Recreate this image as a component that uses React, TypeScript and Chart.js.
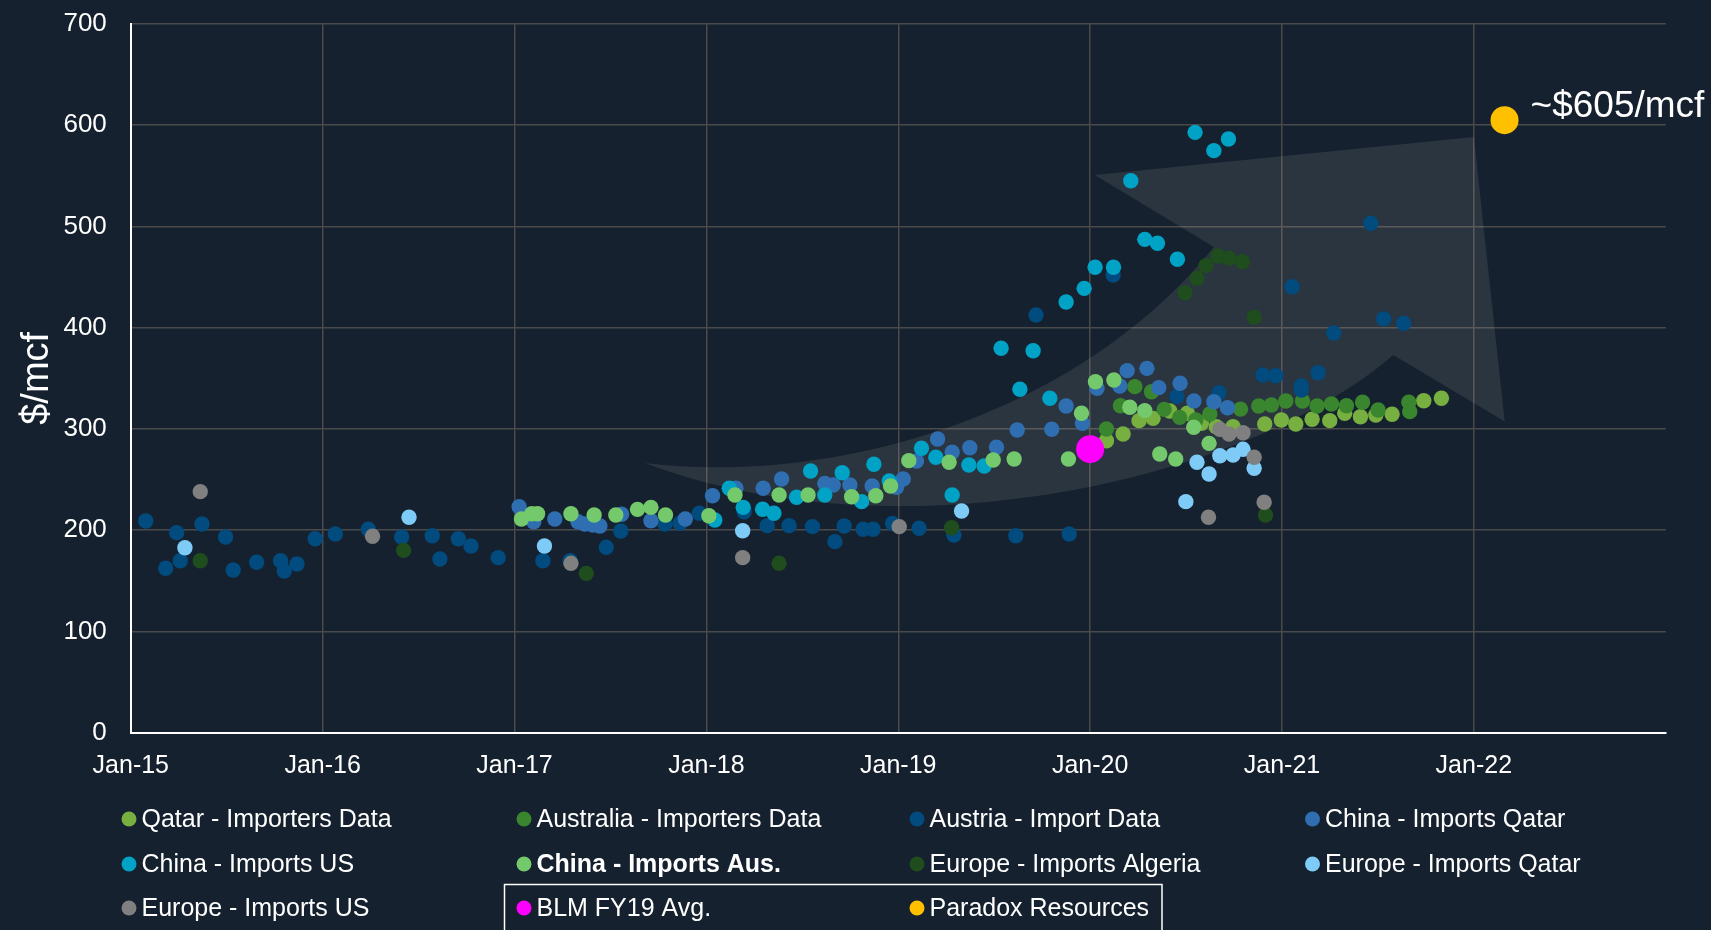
import React, { useEffect, useRef } from "react";
import { Chart, registerables } from "chart.js";

Chart.register(...registerables);

// ---------- DATA (x = decimal year, y = $/mcf) ----------
const xTickYears = [2015, 2016, 2017, 2018, 2019, 2020, 2021, 2022];

const qatarImporters: [number, number][] = [
  [2020.085, 288.4], [2020.172, 295], [2020.255, 308.2], [2020.328, 310.5], [2020.415, 317.8],
  [2020.507, 315.5], [2020.58, 305.6], [2020.658, 302.2], [2020.745, 302.2], [2020.91, 304.9],
  [2020.997, 308.9], [2021.072, 304.9], [2021.157, 309.6], [2021.249, 308.2], [2021.327, 315.5],
  [2021.409, 312.1], [2021.489, 313.8], [2021.574, 314.5], [2021.739, 327.9], [2021.831, 330.3],
];

const australiaImporters: [number, number][] = [
  [2020.085, 300], [2020.158, 323], [2020.233, 341.8], [2020.32, 336.8], [2020.386, 319.4],
  [2020.467, 311.5], [2020.551, 308.9], [2020.624, 314.8], [2020.784, 319.6], [2020.879, 322.7],
  [2020.945, 323.7], [2021.02, 327.6], [2021.107, 327.6], [2021.183, 322.7], [2021.258, 324.7],
  [2021.336, 323], [2021.42, 326.4], [2021.501, 318.8], [2021.661, 326.4], [2021.666, 317.1],
];

const austriaImport: [number, number][] = [
  [2015.078, 209.1], [2015.182, 162.4], [2015.239, 197.6], [2015.258, 169.9], [2015.371, 206.1],
  [2015.494, 193.3], [2015.534, 160.7], [2015.656, 168.3], [2015.781, 169.9], [2015.8, 159.7],
  [2015.866, 166.6], [2015.961, 191.6], [2016.066, 196.3], [2016.238, 200.9], [2016.412, 193.3],
  [2016.571, 194.6], [2016.611, 171.6], [2016.707, 191.6], [2016.773, 184.4], [2016.915, 172.9],
  [2017.148, 169.9], [2017.29, 169.9], [2017.478, 183.1], [2017.554, 199.2], [2017.784, 206.1],
  [2017.862, 206.8], [2017.963, 216.7], [2018.197, 218.3], [2018.317, 204.5], [2018.431, 204.5],
  [2018.553, 203.5], [2018.67, 188.7], [2018.718, 204.2], [2018.817, 200.9], [2018.869, 200.9],
  [2018.97, 206.8], [2019.109, 201.9], [2019.29, 195.3], [2019.613, 194.6], [2019.718, 412.6],
  [2019.891, 196.3], [2020.12, 452.1], [2020.452, 331.9], [2020.672, 335.8], [2020.901, 353.3],
  [2020.968, 352.6], [2021.053, 440.5], [2021.101, 342.5], [2021.101, 338.5], [2021.188, 355.6],
  [2021.27, 394.8], [2021.463, 503.2], [2021.53, 408.7], [2021.634, 404.4],
];

const chinaQatar: [number, number][] = [
  [2017.024, 223.2], [2017.1, 208.4], [2017.21, 211.1], [2017.331, 208.4], [2017.366, 206.1],
  [2017.409, 205.2], [2017.445, 204.2], [2017.558, 215.7], [2017.711, 209.4], [2017.89, 211.1],
  [2018.032, 234.1], [2018.154, 241.4], [2018.296, 241.4], [2018.392, 250.6], [2018.617, 246.3],
  [2018.661, 244.7], [2018.748, 244.7], [2018.864, 243.7], [2018.991, 242.4], [2019.026, 250.6],
  [2019.095, 268.4], [2019.205, 290.1], [2019.281, 277], [2019.373, 281.5], [2019.512, 281.9],
  [2019.62, 299], [2019.8, 299.7], [2019.875, 322.7], [2019.96, 305.6], [2020.036, 340.2],
  [2020.155, 342.5], [2020.193, 357.6], [2020.296, 359.9], [2020.358, 340.8], [2020.469, 345.1],
  [2020.541, 327.6], [2020.645, 326.9], [2020.716, 321],
];

const chinaUS: [number, number][] = [
  [2018.044, 210.1], [2018.119, 241.4], [2018.192, 222.6], [2018.293, 220.7], [2018.352, 216.7],
  [2018.47, 232.5], [2018.543, 258.5], [2018.617, 234.8], [2018.708, 256.8], [2018.809, 228.2],
  [2018.873, 265.1], [2018.953, 248.6], [2019.121, 280.9], [2019.196, 272], [2019.281, 234.8],
  [2019.368, 264.4], [2019.448, 263.4], [2019.536, 379.7], [2019.634, 339.2], [2019.703, 377.3],
  [2019.79, 330.3], [2019.875, 425.4], [2019.969, 438.9], [2020.026, 459.7], [2020.122, 459.7],
  [2020.212, 545.2], [2020.285, 487.3], [2020.351, 483.4], [2020.455, 467.6], [2020.547, 593],
  [2020.645, 574.9], [2020.721, 586.4],
];

const chinaAus: [number, number][] = [
  [2017.036, 211.1], [2017.09, 216.3], [2017.12, 216.3], [2017.294, 216.3], [2017.415, 215],
  [2017.528, 215], [2017.641, 220.6], [2017.711, 222.6], [2017.787, 215], [2018.013, 214.3],
  [2018.149, 234.8], [2018.379, 234.8], [2018.53, 234.8], [2018.757, 233.1], [2018.883, 234.1],
  [2018.96, 243.7], [2019.055, 268.7], [2019.265, 267.1], [2019.495, 269.4], [2019.604, 270.4],
  [2019.887, 270.4], [2019.955, 315.5], [2020.028, 346.7], [2020.124, 348.4], [2020.207, 321.4],
  [2020.285, 318.1], [2020.363, 275.3], [2020.446, 270.4], [2020.54, 301.7], [2020.62, 285.8],
];

const europeAlgeria: [number, number][] = [
  [2015.362, 169.9], [2016.422, 180.1], [2017.374, 157.4], [2018.379, 167.3], [2019.278, 202.5],
  [2020.495, 434.6], [2020.557, 448.8], [2020.604, 461.3], [2020.667, 470.9], [2020.724, 468.6],
  [2020.794, 465.2], [2020.855, 410.3], [2020.914, 215],
];

const europeQatar: [number, number][] = [
  [2015.282, 182.7], [2016.45, 212.8], [2017.156, 184.4], [2018.189, 199.5], [2019.33, 219],
  [2020.499, 228.2], [2020.557, 267.1], [2020.62, 255.5], [2020.676, 273.6], [2020.745, 274.3],
  [2020.797, 279.9], [2020.855, 261.2],
];

const europeUS: [number, number][] = [
  [2015.362, 238.1], [2016.26, 194], [2017.294, 167.3], [2018.189, 172.9], [2019.005, 203.5],
  [2020.617, 212.8], [2020.676, 299.7], [2020.724, 295], [2020.797, 296.3], [2020.855, 272],
  [2020.907, 227.6],
];

const blmAvg: [number, number][] = [[2020.0, 280]];
const paradox: [number, number][] = [[2022.16, 605]];
const paradoxLabel = "~$605/mcf";

// arrow annotation outline in data units
const arrowTail: [number, number] = [2017.68, 266.4];
const arrowUpperCtrl: [number, number][] = [[2018.59, 244.7], [2019.894, 303.9]];
const arrowInnerLeft: [number, number] = [2020.645, 479.8];
const arrowBarbLeft: [number, number] = [2020.024, 550.9];
const arrowTip: [number, number] = [2022.0, 588.4];
const arrowBarbRight: [number, number] = [2022.161, 307.4];
const arrowInnerRight: [number, number] = [2021.58, 373.1];
const arrowLowerCtrl: [number, number][] = [[2020.832, 249.6], [2019.008, 170.6]];

const seriesNames = [
  "Qatar - Importers Data",
  "Australia - Importers Data",
  "Austria - Import Data",
  "China - Imports Qatar",
  "China - Imports US",
  "China - Imports Aus.",
  "Europe - Imports Algeria",
  "Europe - Imports Qatar",
  "Europe - Imports US",
  "BLM FY19 Avg.",
  "Paradox Resources",
];
const seriesData = [
  qatarImporters, australiaImporters, austriaImport, chinaQatar, chinaUS, chinaAus,
  europeAlgeria, europeQatar, europeUS, blmAvg, paradox,
];
const seriesColors = [
  "#77b041", "#39862f", "#014b7f", "#2f6fb1", "#00a2c6", "#73c96b",
  "#1f4d1d", "#7ecbf8", "#808080", "#ff00ff", "#ffc000",
];
const boldLegend = ["China - Imports Aus."];

// ---------- STYLE ----------
const BG = "#15212e";
const GRID = "#4a4a4a";
const FONT = "'Liberation Sans', Arial, sans-serif";

const arrowPlugin = {
  id: "arrowShape",
  beforeDatasetsDraw(chart: any) {
    const { ctx, scales } = chart;
    const px = (p: [number, number]) => [scales.x.getPixelForValue(p[0]), scales.y.getPixelForValue(p[1])];
    const t = px(arrowTail);
    const u1 = px(arrowUpperCtrl[0]);
    const u2 = px(arrowUpperCtrl[1]);
    const il = px(arrowInnerLeft);
    const bl = px(arrowBarbLeft);
    const tp = px(arrowTip);
    const br = px(arrowBarbRight);
    const ir = px(arrowInnerRight);
    const l1 = px(arrowLowerCtrl[0]);
    const l2 = px(arrowLowerCtrl[1]);
    ctx.save();
    ctx.beginPath();
    ctx.moveTo(t[0], t[1]);
    ctx.bezierCurveTo(u1[0], u1[1], u2[0], u2[1], il[0], il[1]);
    ctx.lineTo(bl[0], bl[1]);
    ctx.lineTo(tp[0], tp[1]);
    ctx.lineTo(br[0], br[1]);
    ctx.lineTo(ir[0], ir[1]);
    ctx.bezierCurveTo(l1[0], l1[1], l2[0], l2[1], t[0], t[1]);
    ctx.closePath();
    ctx.fillStyle = "rgba(255,255,255,0.09)";
    ctx.fill();
    ctx.restore();
  },
};

const labelPlugin = {
  id: "paradoxLabel",
  afterDatasetsDraw(chart: any) {
    const meta = chart.getDatasetMeta(seriesNames.length - 1);
    const pt = meta.data[0];
    if (!pt) return;
    const { ctx } = chart;
    ctx.save();
    ctx.fillStyle = "#ffffff";
    ctx.font = `37px ${FONT}`;
    ctx.textAlign = "left";
    ctx.textBaseline = "alphabetic";
    ctx.fillText(paradoxLabel, pt.x + 26, pt.y - 3);
    ctx.restore();
  },
};

const legendPlugin = {
  id: "gridLegend",
  afterDraw(chart: any) {
    const { ctx } = chart;
    const colX = [129, 524, 917, 1312.5];
    const rowY = [819, 864, 908];
    ctx.save();
    seriesNames.forEach((name, i) => {
      const cx = colX[i % 4];
      const cy = rowY[Math.floor(i / 4)];
      ctx.beginPath();
      ctx.fillStyle = seriesColors[i];
      ctx.arc(cx, cy, 7.5, 0, Math.PI * 2);
      ctx.fill();
      ctx.fillStyle = "#ffffff";
      ctx.font = `${boldLegend.includes(name) ? "bold " : ""}25px ${FONT}`;
      ctx.textAlign = "left";
      ctx.textBaseline = "middle";
      ctx.fillText(name, cx + 12.5, cy + 1);
    });
    // box around the two highlighted entries
    ctx.strokeStyle = "#ffffff";
    ctx.lineWidth = 1.5;
    ctx.strokeRect(504.5, 884.5, 657.5, 60);
    ctx.restore();
  },
};

export default function App() {
  const ref = useRef<HTMLCanvasElement>(null);

  useEffect(() => {
    document.body.style.margin = "0";
    document.body.style.background = BG;
    const canvas = ref.current;
    if (!canvas) return;
    Chart.defaults.font.family = FONT;
    const gridColor = (v: number) => (c: any) =>
      c.tick && c.tick.value === v ? "rgba(0,0,0,0)" : GRID;

    const chart = new Chart(canvas, {
      type: "scatter",
      data: {
        datasets: seriesNames.map((name, i) => {
          const big = i >= seriesNames.length - 2;
          return {
            label: name,
            data: seriesData[i].map(([x, y]) => ({ x, y })),
            backgroundColor: seriesColors[i],
            borderWidth: 0,
            pointRadius: big ? 14 : 7.7,
            pointHoverRadius: big ? 14 : 7.7,
            order: seriesNames.length - i,
          };
        }),
      },
      options: {
        responsive: false,
        animation: false,
        events: [],
        layout: { padding: { top: 24, right: 45.3, left: 0, bottom: 0 } },
        plugins: {
          legend: { display: false },
          tooltip: { enabled: false },
        },
        scales: {
          x: {
            type: "linear",
            min: 2015,
            max: 2023,
            afterBuildTicks: (s: any) => {
              s.ticks = xTickYears.map((v) => ({ value: v }));
            },
            afterFit: (s: any) => {
              s.height = 197.3;
            },
            grid: { color: gridColor(2015), lineWidth: 1.5, drawTicks: false },
            border: { display: true, color: "#ffffff", width: 2 },
            ticks: {
              color: "#ffffff",
              font: { size: 25 },
              padding: 18,
              autoSkip: false,
              maxRotation: 0,
              callback: (v: any) => "Jan-" + String(Number(v) - 2000),
            },
          },
          y: {
            min: 0,
            max: 700,
            afterFit: (s: any) => {
              s.width = 130.8;
            },
            grid: {
              color: gridColor(0),
              lineWidth: 1.5,
              drawTicks: true,
              tickLength: 24,
              tickColor: "rgba(0,0,0,0)",
            },
            border: { display: true, color: "#ffffff", width: 2 },
            ticks: { stepSize: 100, color: "#ffffff", font: { size: 26 }, padding: 0 },
            title: {
              display: true,
              text: "$/mcf",
              color: "#ffffff",
              font: { size: 38 },
              padding: { top: 15, bottom: 0 },
            },
          },
        },
      },
      plugins: [arrowPlugin, labelPlugin, legendPlugin],
    } as any);

    return () => chart.destroy();
  }, []);

  return (
    <div style={{ position: "fixed", left: 0, top: 0, width: 1711, height: 930, background: BG }}>
      <canvas ref={ref} width={1711} height={930} style={{ display: "block" }} />
    </div>
  );
}
